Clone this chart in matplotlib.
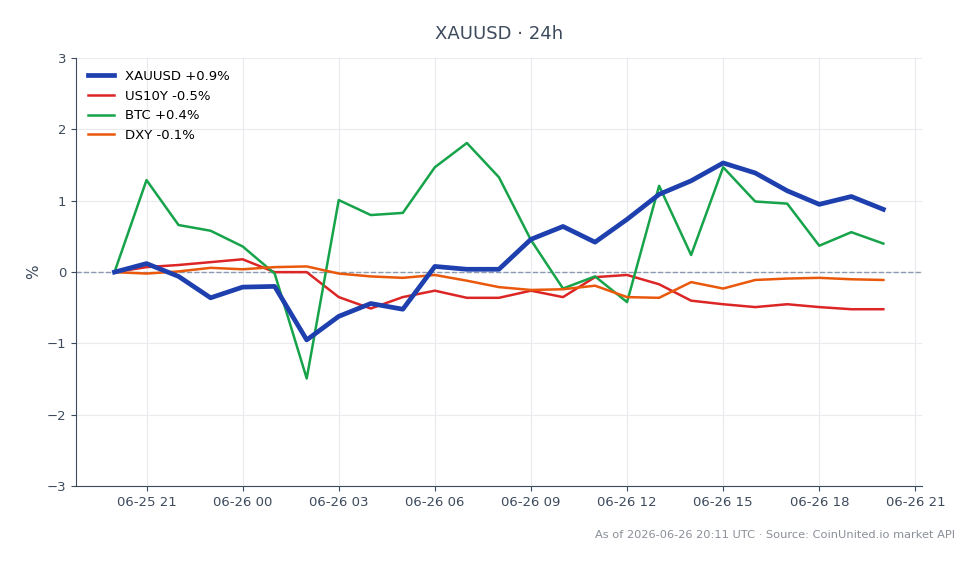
import pandas as pd
import matplotlib.pyplot as plt
import matplotlib.dates as mdates

# hourly % change, 06-25 20:00 -> 06-26 20:00
times = pd.date_range('2026-06-25 20:00', '2026-06-26 20:00', freq='h')

xauusd = [0.0, 0.12, -0.06, -0.36, -0.21, -0.20, -0.95, -0.62, -0.44, -0.52,
          0.08, 0.04, 0.04, 0.46, 0.64, 0.42, 0.74, 1.09, 1.28, 1.53,
          1.39, 1.14, 0.95, 1.06, 0.88]
us10y = [0.0, 0.07, 0.10, 0.14, 0.18, 0.0, 0.0, -0.35, -0.51, -0.35,
         -0.26, -0.36, -0.36, -0.26, -0.35, -0.07, -0.04, -0.17, -0.40, -0.45,
         -0.49, -0.45, -0.49, -0.52, -0.52]
btc = [0.0, 1.29, 0.66, 0.58, 0.36, -0.02, -1.49, 1.01, 0.80, 0.83,
       1.47, 1.81, 1.33, 0.45, -0.23, -0.06, -0.42, 1.21, 0.24, 1.47,
       0.99, 0.96, 0.37, 0.56, 0.40]
dxy = [0.0, -0.02, 0.01, 0.06, 0.04, 0.07, 0.08, -0.02, -0.06, -0.08,
       -0.04, -0.12, -0.21, -0.25, -0.24, -0.19, -0.35, -0.36, -0.14, -0.23,
       -0.11, -0.09, -0.08, -0.10, -0.11]

labels = ['XAUUSD +0.9%', 'US10Y -0.5%', 'BTC +0.4%', 'DXY -0.1%']

fig = plt.figure(figsize=(9.8, 5.64), dpi=100)
ax = fig.add_axes([0.0776, 0.138, 0.863, 0.759])

ax.plot(times, xauusd, color='#1e40af', lw=3.4, label=labels[0], zorder=5)
ax.plot(times, us10y, color='#dc2626', lw=1.8, label=labels[1], zorder=4)
ax.plot(times, btc, color='#16a34a', lw=1.8, label=labels[2], zorder=4)
ax.plot(times, dxy, color='#ea580c', lw=1.8, label=labels[3], zorder=4)

ax.axhline(0, color='#8a9ab0', lw=1, ls='--', zorder=2)

ax.set_ylim(-3, 3)
ax.set_yticks([-3, -2, -1, 0, 1, 2, 3])
ax.xaxis.set_major_locator(mdates.HourLocator(byhour=range(0, 24, 3)))
ax.xaxis.set_major_formatter(mdates.DateFormatter('%m-%d %H'))
ax.set_xlim(times[0] - pd.Timedelta(minutes=72), times[-1] + pd.Timedelta(minutes=72))

ax.grid(True, color='#e8eaee', lw=0.8)
ax.set_axisbelow(True)
for s in ['top', 'right']:
    ax.spines[s].set_visible(False)
for s in ['left', 'bottom']:
    ax.spines[s].set_color('#3d4a5c')
ax.tick_params(colors='#3d4a5c', labelsize=9.5)

ax.set_ylabel('%', color='#3d4a5c', fontsize=11)
ax.set_title('XAUUSD · 24h', color='#3d4a5c', fontsize=13, pad=14)

ax.legend(loc='upper left', frameon=False, fontsize=9.5, handlelength=2.0)

fig.text(0.975, 0.052, 'As of 2026-06-26 20:11 UTC · Source: CoinUnited.io market API',
         ha='right', va='center', fontsize=8.2, color='#8a8f98')

plt.savefig('out.png', dpi=100)
